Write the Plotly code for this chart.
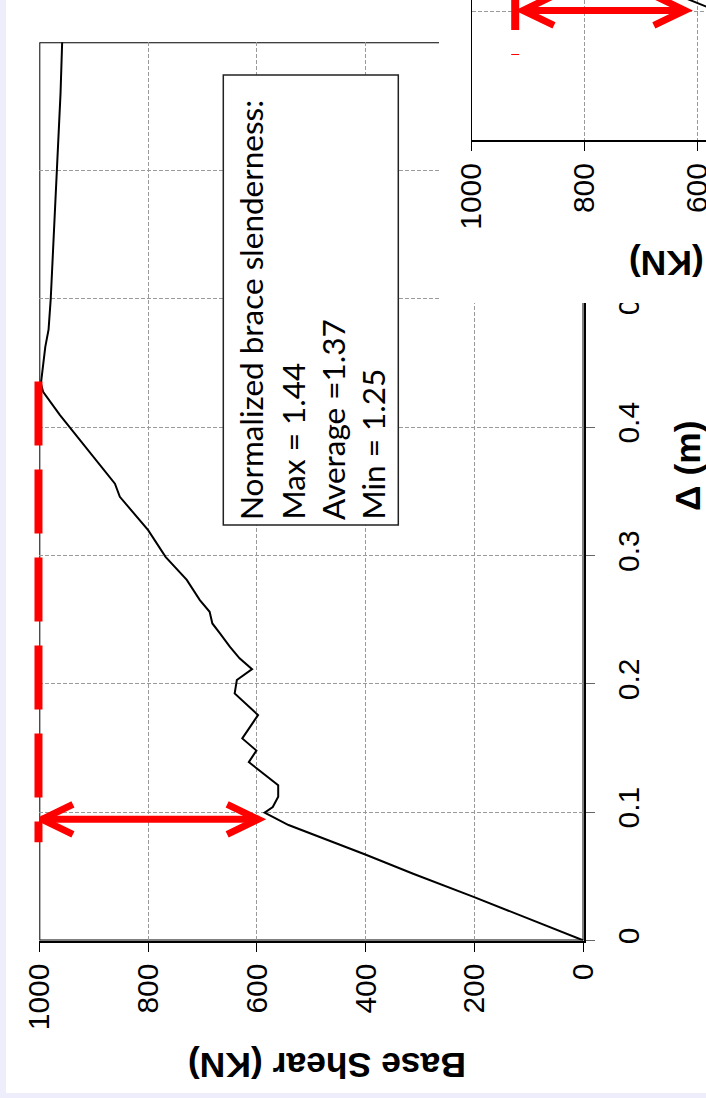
import plotly.graph_objects as go

# ---------------- data ----------------
# main pushover curve: displacement (m) vs base shear (kN)
delta = [0.0, 0.034, 0.052, 0.067, 0.090, 0.0996, 0.104, 0.112, 0.121, 0.139, 0.148,
         0.1575, 0.1757, 0.1926, 0.203, 0.2115, 0.2199, 0.229, 0.2393, 0.2471,
         0.2562, 0.2653, 0.281, 0.299, 0.3198, 0.3458, 0.356, 0.4094, 0.4276,
         0.4341, 0.4626, 0.476, 0.5, 0.6, 0.66, 0.7]
shear = [0, 202, 313, 401, 542, 586, 571, 561, 561, 615, 601,
         627, 598, 641, 637, 609, 632, 650, 668, 682,
         687, 705, 729, 768, 800, 852, 861, 962, 993,
         997, 989, 983, 979, 968, 961, 958]

# second (partially hidden) chart: only the elastic branch is visible
delta2 = [0.0, 0.112]
shear2 = [0, 630]

shear_ticks = [0, 200, 400, 600, 800, 1000]
delta_ticks = [0, 0.1, 0.2, 0.3, 0.4, 0.5, 0.6, 0.7]
shear_ticks2 = [600, 800, 1000]

note_lines = ["Normalized brace slenderness:", "Max = 1.44", "Average =1.37", "Min = 1.25"]

# red markup (data units)
dash_V, dash_top, dash_bot = 1000, 0.4356, 0.0765
arrow_delta, arrow_V = 0.0944, [997, 596]
dash2_V, dash2_top, dash2_bot = 923, 0.1356, 0.0662
arrow2_delta, arrow2_V = 0.101, [911, 621]

# ---------------- layout helpers ----------------
W, H = 706, 1098
def px(x): return x / W
def py(y): return 1 - y / H

X_RANGE = [1000, 0]
Y_RANGE = [0, 0.7]
X2_RANGE = [1000, 1000 - (706 - 471.7) / 0.565]
Y2_RANGE = [0, 140 / 1283.0]

TICKFONT = dict(family="Liberation Sans, Arial", size=30, color="#000")
TITLEFONT = dict(family="Liberation Sans, Arial", size=35.5, color="#000")
GRID = dict(showgrid=True, gridcolor="#9a9a9a", gridwidth=1, griddash="4px,2px")
RED = "#ff0000"

fig = go.Figure()
fig.add_trace(go.Scatter(x=shear, y=delta, mode="lines",
                         line=dict(color="#000", width=2), showlegend=False,
                         xaxis="x", yaxis="y"))
fig.add_trace(go.Scatter(x=[], y=[], xaxis="x2", yaxis="y2", showlegend=False))
fig.add_trace(go.Scatter(x=shear2, y=delta2, mode="lines",
                         line=dict(color="#000", width=2), showlegend=False,
                         xaxis="x3", yaxis="y3"))

shapes = []
# white slide area
shapes.append(dict(type="rect", xref="paper", yref="paper", x0=px(6), x1=1,
                   y0=py(1093), y1=1, fillcolor="#ffffff", line=dict(width=0),
                   layer="below"))
# thin border of the main plot (half clipped by the plot area)
shapes.append(dict(type="rect", xref="x", yref="y", x0=X_RANGE[0], x1=X_RANGE[1],
                   y0=Y_RANGE[0], y1=Y_RANGE[1], line=dict(color="#000", width=2),
                   layer="below"))

# note box
shapes.append(dict(type="rect", xref="paper", yref="paper", x0=px(223.3), x1=px(398.3),
                   y0=py(525), y1=py(75), fillcolor="#ffffff",
                   line=dict(color="#222", width=1.5), layer="above"))

# main red dashed line (domain refs so it is not clipped)
def xfrac(v, rng): return (v - rng[0]) / (rng[1] - rng[0])
shapes.append(dict(type="line", xref="x domain", yref="y domain",
                   x0=xfrac(dash_V, X_RANGE) - 0.0015, x1=xfrac(dash_V, X_RANGE) - 0.0015,
                   y0=xfrac(dash_top, Y_RANGE), y1=xfrac(dash_bot, Y_RANGE),
                   line=dict(color=RED, width=8, dash="64px,24px"), layer="above"))

def arrow(xr, yr, v_left, v_right, d):
    out = [dict(type="line", xref=xr, yref=yr, x0=v_left, x1=v_right, y0=d, y1=d,
                line=dict(color=RED, width=7), layer="above")]
    out.append(dict(type="path", xref=xr, yref=yr, xsizemode="pixel", ysizemode="pixel",
                    xanchor=v_left, yanchor=d, path="M 32,15 L 1,0 L 32,-15",
                    line=dict(color=RED, width=7), layer="above"))
    out.append(dict(type="path", xref=xr, yref=yr, xsizemode="pixel", ysizemode="pixel",
                    xanchor=v_right, yanchor=d, path="M -32,15 L -1,0 L -32,-15",
                    line=dict(color=RED, width=7), layer="above"))
    return out

shapes += arrow("x", "y", arrow_V[0], arrow_V[1], arrow_delta)

# second chart red markup
shapes.append(dict(type="line", xref="x3", yref="y3", x0=dash2_V, x1=dash2_V,
                   y0=dash2_top, y1=dash2_bot,
                   line=dict(color=RED, width=8, dash="64px,24px"), layer="above"))
shapes += arrow("x3", "y3", arrow2_V[0], arrow2_V[1], arrow2_delta)

annotations = []
annotations.append(dict(text="<b>Base Shear (KN)</b>", textangle=180, showarrow=False,
                        xref="paper", yref="paper", x=px(327.5), y=py(1065),
                        xanchor="center", yanchor="middle", font=TITLEFONT))
annotations.append(dict(text="<b>Base Shear (KN)</b>", textangle=180, showarrow=False,
                        xref="paper", yref="paper", x=px(768), y=py(263),
                        xanchor="center", yanchor="middle", font=TITLEFONT))
annotations.append(dict(text="<b>Δ (m)</b>", textangle=-90, showarrow=False,
                        xref="paper", yref="paper", x=px(688), y=py(466),
                        xanchor="center", yanchor="middle", font=TITLEFONT))
note_x = [251, 292, 332.5, 372]
for t, xc in zip(note_lines, note_x):
    annotations.append(dict(text=t, textangle=-90, showarrow=False,
                            xref="paper", yref="paper", x=px(xc), y=py(522),
                            xanchor="center", yanchor="bottom",
                            font=dict(family="Lato, Carlito, sans-serif", size=31.5, color="#000")))

fig.update_layout(
    width=W, height=H,
    margin=dict(l=0, r=0, t=0, b=0, pad=0, autoexpand=False),
    paper_bgcolor="#ededfc",
    plot_bgcolor="#ffffff",
    showlegend=False,
    hovermode=False,
    shapes=shapes,
    annotations=annotations,
    xaxis=dict(domain=[px(39.3), px(583.5)], range=X_RANGE, anchor="y",
               tickvals=shear_ticks, ticktext=[str(v) for v in shear_ticks],
               tickangle=-90, tickfont=TICKFONT, ticks="outside", ticklen=9,
               tickcolor="#000", tickwidth=1, showline=True, linecolor="#000",
               linewidth=2, zeroline=False, automargin=False, **GRID),
    yaxis=dict(domain=[py(940.5), py(42.3)], range=Y_RANGE, anchor="x", side="right",
               tickvals=delta_ticks, ticktext=[f"{v:g}" for v in delta_ticks],
               tickangle=-90, tickfont=TICKFONT, ticks="outside", ticklen=9,
               tickcolor="#666", tickwidth=1, showline=True, linecolor="#000",
               linewidth=2, zeroline=False, automargin=False, ticklabelstandoff=8,
               **GRID),
    xaxis2=dict(domain=[px(439), 1], range=[0, 1], anchor="y2", showgrid=False,
                showline=False, zeroline=False, showticklabels=False, ticks=""),
    yaxis2=dict(domain=[py(303), 1], range=[0, 1], anchor="x2", showgrid=False,
                showline=False, zeroline=False, showticklabels=False, ticks=""),
    xaxis3=dict(domain=[px(471.7), 1], range=X2_RANGE, anchor="y3",
                tickvals=shear_ticks2, ticktext=[str(v) for v in shear_ticks2],
                tickangle=-90, tickfont=TICKFONT, ticks="outside", ticklen=9,
                tickcolor="#000", showline=True, linecolor="#000", linewidth=2,
                zeroline=False, automargin=False, ticklabeloverflow="allow", **GRID),
    yaxis3=dict(domain=[py(140), 1], range=Y2_RANGE, anchor="x3", side="left",
                tickvals=[0.1], showticklabels=False, ticks="",
                showline=True, linecolor="#000", linewidth=1, zeroline=False,
                automargin=False, **GRID),
)

fig.write_html("out.html", config={"displayModeBar": False, "staticPlot": True},
               post_script="document.body.style.margin='0';document.body.style.overflow='hidden';")
